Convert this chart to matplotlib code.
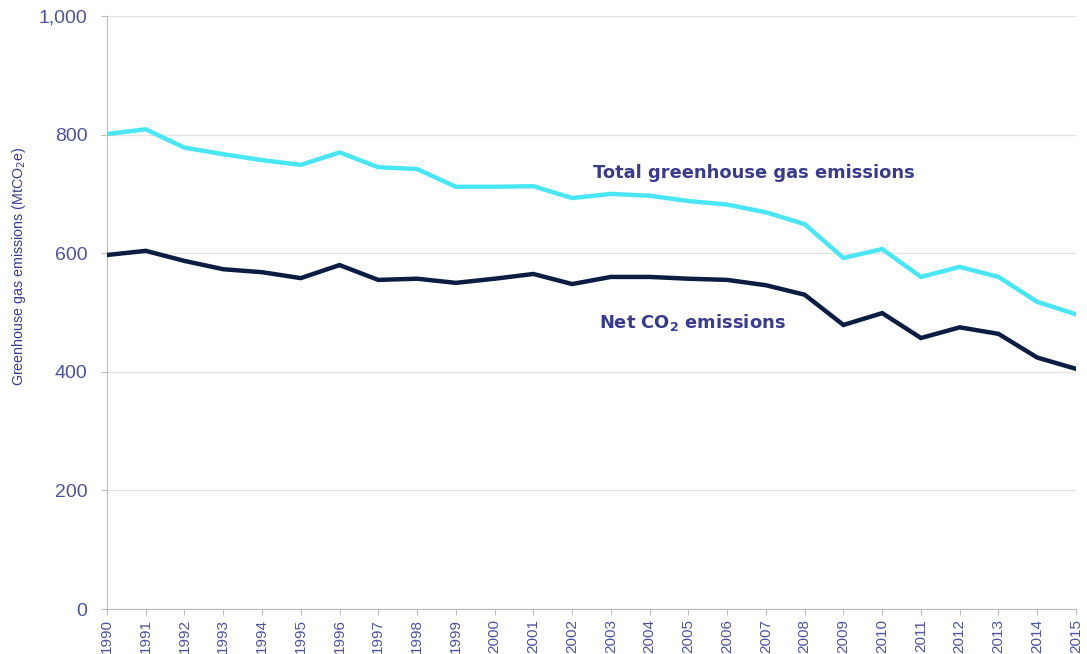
import matplotlib.pyplot as plt
import numpy as np

years = list(range(1990, 2016))
total_ghg = [801, 809, 778, 767, 757, 749, 770, 745, 742, 712, 712, 713, 693, 700, 697,
             688, 682, 669, 649, 592, 607, 560, 577, 560, 518, 497]
net_co2 = [597, 604, 587, 573, 568, 558, 580, 555, 557, 550, 557, 565, 548, 560, 560,
           557, 555, 546, 530, 479, 499, 457, 475, 464, 424, 405]

plt.rcParams['font.family'] = ['Liberation Sans', 'DejaVu Sans']
label_col = "#383c8a"
tick_col = "#4f539c"

fig = plt.figure(figsize=(10.87, 6.54), dpi=100)
ax = fig.add_axes([0.0984, 0.0688, 0.8915, 0.9067])

ax.plot(years, total_ghg, color="#4be6f4", lw=3.2, solid_joinstyle="miter", zorder=3)
ax.plot(years, net_co2, color="#0c1d44", lw=3.2, solid_joinstyle="miter", zorder=3)

ax.set_xlim(1990, 2015)
ax.set_ylim(0, 1000)
ax.set_yticks(np.arange(0, 1001, 200))
ax.set_yticklabels([f"{v:,}" for v in range(0, 1001, 200)])
ax.set_xticks(years)
ax.set_xticklabels([str(y) for y in years], rotation=90)
ax.grid(axis="y", color="#e4e4e4", lw=1)
ax.set_axisbelow(True)
for s in ["top", "right"]:
    ax.spines[s].set_visible(False)
ax.spines["left"].set_color("#bdbdbd")
ax.spines["bottom"].set_color("#bdbdbd")
ax.tick_params(axis="both", colors="#bdbdbd", length=4, labelcolor=tick_col)
ax.tick_params(axis="y", labelsize=14, pad=10)
ax.tick_params(axis="x", labelsize=11, pad=3)

ax.set_ylabel("Greenhouse gas emissions (MtCO$_2$e)", color=label_col, fontsize=10.3)
ax.yaxis.set_label_coords(-0.081, 0.578)

ax.text(2002.55, 735, "Total greenhouse gas emissions", color=label_col, fontsize=12.9,
        family="DejaVu Sans", fontweight="bold", ha="left", va="center")
ax.text(2002.7, 483, "Net CO$_\\mathbf{2}$ emissions", color=label_col, fontsize=12.9,
        family="DejaVu Sans", fontweight="bold", ha="left", va="center")

fig.savefig("out.png", dpi=100)
